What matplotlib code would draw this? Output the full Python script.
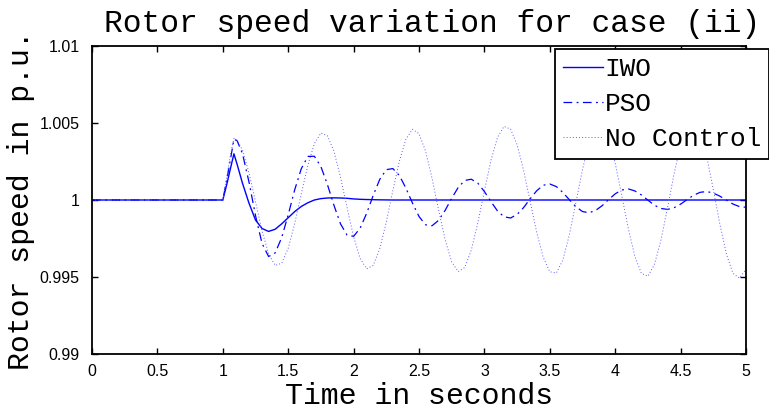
import numpy as np
import matplotlib.pyplot as plt

# IWO response (deviation from 1 p.u., in units of 1e-4)
iwo_time = [0, 1.00, 1.03, 1.06, 1.085, 1.11, 1.15, 1.20, 1.25, 1.30,
            1.35, 1.40, 1.45, 1.50, 1.55, 1.60, 1.65, 1.70, 1.75, 1.80,
            1.85, 1.90, 1.95, 2.00, 2.05, 2.10, 2.15, 2.20, 2.25, 2.30, 5.00]
iwo_dev = [0, 0, 10, 21, 30, 23, 11, -2, -13, -18.5,
           -20.4, -19, -15.5, -11.5, -7.5, -4.2, -1.8, 0, 0.9, 1.3,
           1.4, 1.3, 1.1, 0.7, 0.45, 0.3, 0.2, 0.1, 0.05, 0, 0]

# shared sample times for PSO / no control
osc_time = np.concatenate([[0, 1.00, 1.03, 1.06, 1.085, 1.11],
                           np.round(np.arange(1.15, 5.001, 0.05), 2)])

pso_dev = [0, 0, 13, 27, 39.5, 38.4,
           30.2, 11.8, -10.1, -28.2, -36.7, -34.4, -24.5, -9.6,
           6.7, 20.3, 28.3, 28.4, 21.7, 10.0, -3.5, -15.5, -22.8, -23.6,
           -18.3, -8.6, 3.0, 13.4, 19.7, 20.4, 15.9, 7.7, -2.0, -10.7,
           -16.1, -16.7, -13.2, -6.7, 1.1, 8.2, 12.7, 13.5, 10.9, 5.5,
           -1.0, -7.1, -10.9, -11.7, -9.4, -4.9, 0.8, 6.0, 9.6, 10.4,
           8.7, 4.9, 0.1, -4.4, -7.5, -8.3, -6.8, -3.7, 0.3, 4.0,
           6.5, 7.2, 5.9, 3.3, -0.1, -3.4, -5.5, -6.1, -5.0, -2.7,
           0.3, 3.1, 5.0, 5.5, 4.5, 2.5, -0.1, -2.6, -4.3, -4.7]

noctrl_dev = [0, 0, 15, 30, 40, 38.8,
              32.4, 17.7, -1.1, -20.1, -34.9, -42.5, -41.1, -31.4,
              -15.2, 4.0, 22.5, 36.6, 43.5, 41.7, 31.5, 14.8, -5.0, -23.8,
              -38.0, -44.7, -42.5, -31.6, -14.3, 6.1, 25.3, 39.5, 45.9, 43.1,
              31.8, 14.0, -6.5, -25.8, -40.2, -46.5, -43.8, -32.5, -14.7, 6.0,
              25.7, 40.6, 47.8, 46.0, 35.9, 19.1, -1.0, -21.1, -37.3, -46.6,
              -47.4, -38.9, -22.5, -1.5, 19.8, 37.4, 47.7, 48.7, 40.2, 24.0,
              3.0, -18.5, -36.5, -47.6, -49.5, -41.9, -26.0, -5.1, 17.0, 35.7,
              47.9, 50.8, 43.8, 28.1, 6.9, -15.6, -35.0, -47.6, -50.7, -45.0]

x_ticks = [0, 0.5, 1, 1.5, 2, 2.5, 3, 3.5, 4, 4.5, 5]
x_labels = ['0', '0.5', '1', '1.5', '2', '2.5', '3', '3.5', '4', '4.5', '5']
y_ticks = [0.99, 0.995, 1.0, 1.005, 1.01]
y_labels = ['0.99', '0.995', '1', '1.005', '1.01']

mono = 'Liberation Mono'

fig = plt.figure(figsize=(7.69, 4.08), dpi=100)
ax = fig.add_axes([92 / 769, 1 - 354 / 408, 654 / 769, 308 / 408])

ax.plot(iwo_time, 1 + np.array(iwo_dev) * 1e-4, color='#0000ff', lw=1.0, label='IWO')
ax.plot(osc_time, 1 + np.array(pso_dev) * 1e-4, color='#0000ff', lw=0.9,
        linestyle=(0, (7, 3.5, 1.5, 3.5)), label='PSO')
ax.plot(osc_time, 1 + np.array(noctrl_dev) * 1e-4, color='#5a5aff', lw=0.7,
        linestyle=(0, (1, 2.2)), label='No Control')

ax.set_xlim(0, 5)
ax.set_ylim(0.99, 1.01)
ax.set_xticks(x_ticks)
ax.set_xticklabels(x_labels, fontfamily='Liberation Sans', fontsize=11.5)
ax.set_yticks(y_ticks)
ax.set_yticklabels(y_labels, fontfamily='Liberation Sans', fontsize=11.5)
ax.tick_params(direction='in', top=True, right=True, length=4.5, width=1.0)
ax.tick_params(axis='y', pad=9)
ax.tick_params(axis='x', pad=7)
for s in ax.spines.values():
    s.set_linewidth(1.3)

ax.set_title('Rotor speed variation for case (ii)', fontfamily=mono, fontsize=22.5,
             x=0.52, pad=10)
ax.set_xlabel('Time in seconds', fontfamily=mono, fontsize=21.5, labelpad=2)
ax.set_ylabel('Rotor speed in p.u.', fontfamily=mono, fontsize=21.5, labelpad=3)

leg = ax.legend(loc='upper left', bbox_to_anchor=(555 / 769, 1 - 49 / 408),
                bbox_transform=fig.transFigure, prop={'family': mono, 'size': 18.8},
                frameon=True, fancybox=False, framealpha=1, edgecolor='black',
                borderpad=0.3, labelspacing=0.42, handlelength=1.55,
                handletextpad=0.05, borderaxespad=0)
leg.get_frame().set_linewidth(1.3)

fig.savefig('out.png', dpi=100)
